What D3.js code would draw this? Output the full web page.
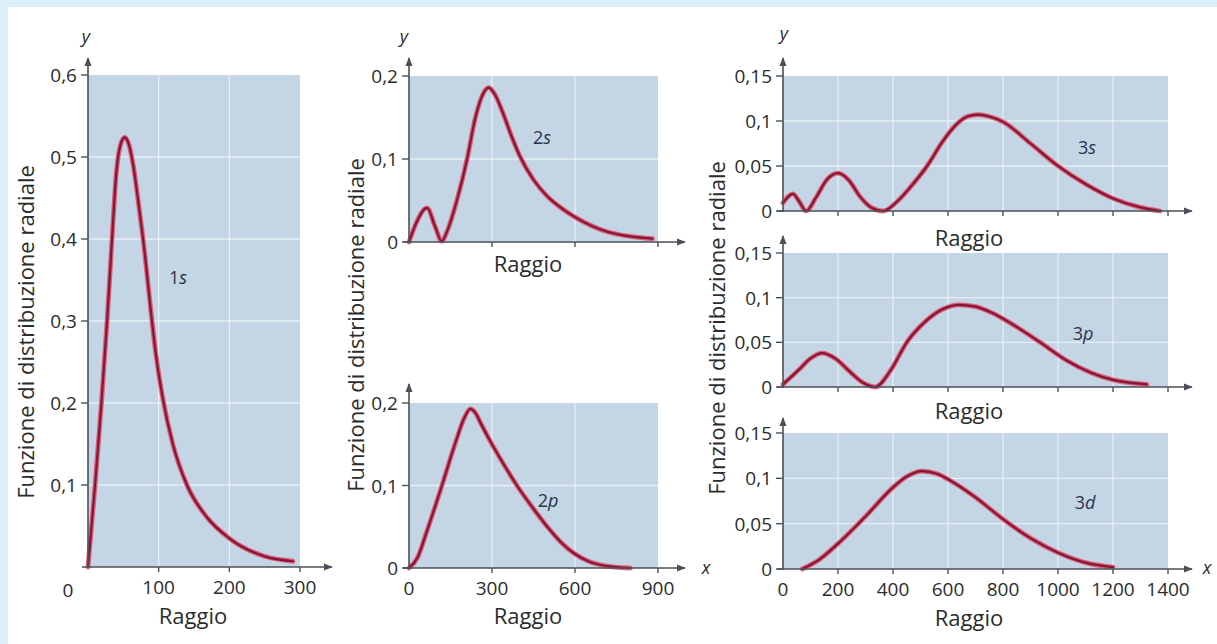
<!DOCTYPE html>
<html>
<head>
<meta charset="utf-8">
<script src="https://cdn.jsdelivr.net/npm/d3@7"></script>
<style>
  html, body { margin: 0; padding: 0; background: #ffffff; }
  svg { display: block; }
  text { font-family: "Open Sans", "Noto Sans", sans-serif; fill: #2a2c2e; }
</style>
</head>
<body>
<svg id="chart" width="1217" height="644"></svg>
<script>
// ---------------- DATA ----------------
// 1s radial distribution
const r1s = [0, 10, 19, 27, 34, 40, 46, 52, 58, 64, 72, 80, 88, 96, 106, 120, 140, 168, 200, 250, 290];
const p1s = [0, 0.1, 0.2, 0.3, 0.4, 0.48, 0.515, 0.524, 0.515, 0.49, 0.44, 0.385, 0.32, 0.26, 0.205, 0.15, 0.1, 0.061, 0.035, 0.013, 0.007];
// 2s
const r2s = [0, 25, 65, 95, 118, 140, 173, 210, 240, 270, 288, 310, 340, 370, 400, 450, 500, 550, 600, 720, 880];
const p2s = [0, 0.022, 0.041, 0.018, 0.001, 0.015, 0.05, 0.1, 0.15, 0.18, 0.186, 0.178, 0.155, 0.128, 0.104, 0.075, 0.055, 0.041, 0.03, 0.012, 0.004];
// 2p
const r2p = [0, 30, 65, 119, 166, 200, 222, 240, 260, 290, 340, 390, 445, 500, 550, 600, 650, 705, 800];
const p2p = [0, 0.012, 0.045, 0.1, 0.15, 0.182, 0.193, 0.188, 0.175, 0.156, 0.127, 0.1, 0.074, 0.05, 0.031, 0.017, 0.008, 0.003, 0];
// 3s
const r3s = [0, 36, 60, 84, 120, 160, 200, 240, 280, 320, 364, 420, 470, 524, 580, 630, 670, 710, 750, 800, 900, 996, 1100, 1200, 1300, 1371];
const p3s = [0.009, 0.019, 0.01, 0, 0.015, 0.035, 0.042, 0.034, 0.016, 0.004, 0, 0.012, 0.029, 0.05, 0.077, 0.096, 0.105, 0.107, 0.105, 0.099, 0.075, 0.051, 0.03, 0.014, 0.004, 0];
// 3p
const r3p = [0, 60, 100, 142, 190, 240, 290, 335, 390, 450, 520, 580, 640, 700, 760, 830, 935, 1030, 1120, 1200, 1323];
const p3p = [0.003, 0.02, 0.032, 0.038, 0.032, 0.018, 0.005, 0, 0.018, 0.05, 0.074, 0.087, 0.092, 0.09, 0.083, 0.071, 0.05, 0.03, 0.016, 0.008, 0.003];
// 3d
const r3d = [70, 130, 200, 300, 400, 450, 505, 560, 600, 700, 800, 900, 1000, 1100, 1200];
const p3d = [0, 0.01, 0.028, 0.058, 0.09, 0.102, 0.108, 0.105, 0.099, 0.079, 0.055, 0.034, 0.018, 0.007, 0.002];

// tick values
const yTicks1s = [0.1, 0.2, 0.3, 0.4, 0.5, 0.6];
const yTicks2 = [0, 0.1, 0.2];
const yTicks3 = [0, 0.05, 0.1, 0.15];
const xTicks1s = [100, 200, 300];
const xTicks2 = [0, 300, 600, 900];
const xTicks3 = [0, 200, 400, 600, 800, 1000, 1200, 1400];

// text
const yTitle = "Funzione di distribuzione radiale";
const xTitle = "Raggio";

// ---------------- DRAWING ----------------
const svg = d3.select("#chart");
const fmt = v => String(v).replace(".", ",");

// light blue frame (top and left)
svg.append("rect").attr("x", 0).attr("y", 0).attr("width", 1217).attr("height", 7).attr("fill", "#ddf0fa");
svg.append("rect").attr("x", 0).attr("y", 0).attr("width", 8).attr("height", 644).attr("fill", "#ddf0fa");

const AX = "#4b5058";
const BG = "#c4d5e5";

// arrow marker
const defs = svg.append("defs");
defs.append("marker").attr("id", "arr")
  .attr("viewBox", "0 0 10 10").attr("refX", 9).attr("refY", 5)
  .attr("markerWidth", 9).attr("markerHeight", 9).attr("markerUnits", "userSpaceOnUse")
  .attr("orient", "auto")
  .append("path").attr("d", "M0,1 L10,5 L0,9 Z").attr("fill", AX);

const panels = [
  { name: "1s", r: r1s, p: p1s, xr: [88, 300], yr: [567, 75], xd: [0, 300], yd: [0, 0.6],
    yTicks: yTicks1s, xTicks: xTicks1s, xLabels: true, yTop: 58, xEnd: 332,
    lab: [178, 277], num: "1", let: "s", raggio: [193, 615], cornerZero: [68, 590] },
  { name: "2s", r: r2s, p: p2s, xr: [409, 658], yr: [242, 76], xd: [0, 900], yd: [0, 0.2],
    yTicks: yTicks2, xTicks: xTicks2, xLabels: false, yTop: 58, xEnd: 685,
    lab: [542, 137], num: "2", let: "s", raggio: [528, 263] },
  { name: "2p", r: r2p, p: p2p, xr: [409, 658], yr: [568, 403], xd: [0, 900], yd: [0, 0.2],
    yTicks: yTicks2, xTicks: xTicks2, xLabels: true, yTop: 384, xEnd: 685,
    lab: [548, 500], num: "2", let: "p", raggio: [528, 615] },
  { name: "3s", r: r3s, p: p3s, xr: [783, 1168], yr: [211, 76], xd: [0, 1400], yd: [0, 0.15],
    yTicks: yTicks3, xTicks: xTicks3, xLabels: false, yTop: 58, xEnd: 1192,
    lab: [1087, 147], num: "3", let: "s", raggio: [969, 237] },
  { name: "3p", r: r3p, p: p3p, xr: [783, 1168], yr: [387, 253], xd: [0, 1400], yd: [0, 0.15],
    yTicks: yTicks3, xTicks: xTicks3, xLabels: false, yTop: 236, xEnd: 1192,
    lab: [1083, 333], num: "3", let: "p", raggio: [969, 410] },
  { name: "3d", r: r3d, p: p3d, xr: [783, 1168], yr: [569, 433], xd: [0, 1400], yd: [0, 0.15],
    yTicks: yTicks3, xTicks: xTicks3, xLabels: true, yTop: 418, xEnd: 1192,
    lab: [1085, 502], num: "3", let: "d", raggio: [969, 617] }
];

panels.forEach(P => {
  const x = d3.scaleLinear().domain(P.xd).range(P.xr);
  const y = d3.scaleLinear().domain(P.yd).range(P.yr);
  const g = svg.append("g");

  // background
  g.append("rect")
    .attr("x", x(P.xd[0])).attr("y", y(P.yd[1]))
    .attr("width", x(P.xd[1]) - x(P.xd[0])).attr("height", y(P.yd[0]) - y(P.yd[1]))
    .attr("fill", BG);

  // grid
  g.selectAll(".gy").data(P.yTicks.filter(v => v > P.yd[0] && v < P.yd[1])).join("line")
    .attr("x1", x(P.xd[0])).attr("x2", x(P.xd[1]))
    .attr("y1", d => y(d)).attr("y2", d => y(d))
    .attr("stroke", "#ffffff").attr("stroke-opacity", 0.6).attr("stroke-width", 1.3);
  g.selectAll(".gx").data(P.xTicks.filter(v => v > P.xd[0] && v < P.xd[1])).join("line")
    .attr("x1", d => x(d)).attr("x2", d => x(d))
    .attr("y1", y(P.yd[0])).attr("y2", y(P.yd[1]))
    .attr("stroke", "#ffffff").attr("stroke-opacity", 0.6).attr("stroke-width", 1.3);

  // curve
  const pts = P.r.map((d, i) => [d, P.p[i]]);
  const line = d3.line().x(d => x(d[0])).y(d => y(d[1])).curve(d3.curveMonotoneX);
  g.append("path").attr("d", line(pts)).attr("fill", "none")
    .attr("stroke", "#e0485f").attr("stroke-width", 4.8).attr("stroke-opacity", 0.85)
    .attr("stroke-linejoin", "round").attr("stroke-linecap", "round");
  g.append("path").attr("d", line(pts)).attr("fill", "none")
    .attr("stroke", "#80173a").attr("stroke-width", 2.2)
    .attr("stroke-linejoin", "round").attr("stroke-linecap", "round");

  // y axis line with arrow
  g.append("line")
    .attr("x1", x(0)).attr("x2", x(0)).attr("y1", y(0) + 1).attr("y2", P.yTop)
    .attr("stroke", AX).attr("stroke-width", 1.6).attr("marker-end", "url(#arr)");
  // x axis line with arrow
  g.append("line")
    .attr("x1", x(0) - 6).attr("x2", P.xEnd).attr("y1", y(0)).attr("y2", y(0))
    .attr("stroke", AX).attr("stroke-width", 1.6).attr("marker-end", "url(#arr)");

  // y ticks
  g.selectAll(".ty").data(P.yTicks).join("line")
    .attr("x1", x(0) - 7).attr("x2", x(0))
    .attr("y1", d => y(d)).attr("y2", d => y(d))
    .attr("stroke", AX).attr("stroke-width", 1.4);
  g.selectAll(".tyl").data(P.yTicks).join("text")
    .attr("x", x(0) - 11).attr("y", d => y(d))
    .attr("text-anchor", "end").attr("dominant-baseline", "central")
    .attr("font-size", 19).attr("font-weight", 500).text(d => fmt(d));

  // x ticks
  g.selectAll(".tx").data(P.xTicks.filter(v => v > P.xd[0])).join("line")
    .attr("x1", d => x(d)).attr("x2", d => x(d))
    .attr("y1", y(0)).attr("y2", y(0) + 5)
    .attr("stroke", AX).attr("stroke-width", 1.4);
  if (P.xLabels) {
    g.selectAll(".txl").data(P.xTicks).join("text")
      .attr("x", d => x(d)).attr("y", y(0) + 20)
      .attr("text-anchor", "middle").attr("dominant-baseline", "central")
      .attr("font-size", 19).attr("font-weight", 500).text(d => fmt(d));
  }
  if (P.cornerZero) {
    g.append("text").attr("x", P.cornerZero[0]).attr("y", P.cornerZero[1])
      .attr("text-anchor", "middle").attr("dominant-baseline", "central")
      .attr("font-size", 19).attr("font-weight", 500).text("0");
  }

  // axis title "Raggio"
  g.append("text").attr("x", P.raggio[0]).attr("y", P.raggio[1])
    .attr("text-anchor", "middle").attr("dominant-baseline", "central")
    .attr("font-size", 22).attr("font-weight", 500).text(xTitle);

  // orbital label
  const t = g.append("text").attr("x", P.lab[0]).attr("y", P.lab[1])
    .attr("text-anchor", "middle").attr("dominant-baseline", "central")
    .attr("font-size", 18).style("fill", "#27344d");
  t.append("tspan").text(P.num);
  t.append("tspan").attr("font-style", "italic").text(P.let);
});

// "y" and "x" axis letters
const yLetters = [[86, 36], [404, 36], [784, 33]];
svg.selectAll(".ylet").data(yLetters).join("text")
  .attr("x", d => d[0]).attr("y", d => d[1])
  .attr("text-anchor", "middle").attr("dominant-baseline", "central")
  .attr("font-size", 18).attr("font-style", "italic").text("y");
const xLetters = [[706, 567], [1207, 567]];
svg.selectAll(".xlet").data(xLetters).join("text")
  .attr("x", d => d[0]).attr("y", d => d[1])
  .attr("text-anchor", "middle").attr("dominant-baseline", "central")
  .attr("font-size", 18).attr("font-style", "italic").text("x");

// vertical axis titles
const yTitlePos = [[25, 332], [355, 325], [716, 328]];
svg.selectAll(".ytitle").data(yTitlePos).join("text")
  .attr("transform", d => `translate(${d[0]},${d[1]}) rotate(-90)`)
  .attr("text-anchor", "middle").attr("dominant-baseline", "central")
  .attr("font-size", 22).attr("font-weight", 500).text(yTitle);
</script>
</body>
</html>
